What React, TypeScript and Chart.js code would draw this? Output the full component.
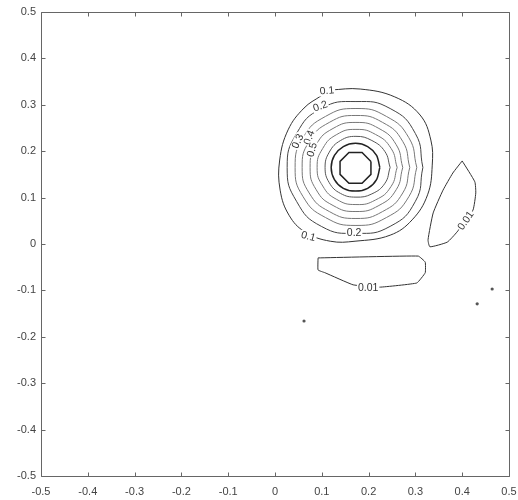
import React, { useEffect, useRef } from "react";
import { Chart, registerables } from "chart.js";
Chart.register(...registerables);

type P = [number, number];

const axisMin = -0.5;
const axisMax = 0.5;
const tickStep = 0.1;

const contour_0_1: P[] = [
  [0.118, 0.332], [0.182, 0.334], [0.256, 0.317], [0.310, 0.278], [0.333, 0.224], [0.336, 0.170],
  [0.326, 0.106], [0.293, 0.052], [0.246, 0.019], [0.171, 0.006], [0.118, 0.006], [0.064, 0.026],
  [0.030, 0.062], [0.011, 0.116], [0.010, 0.181], [0.028, 0.246], [0.062, 0.293], [0.098, 0.319],
];
const contour_0_2: P[] = [
  [0.316, 0.165], [0.300, 0.238], [0.246, 0.292], [0.173, 0.307], [0.099, 0.292], [0.046, 0.238],
  [0.026, 0.165], [0.046, 0.092], [0.099, 0.038], [0.173, 0.023], [0.246, 0.038], [0.300, 0.092],
];
const contour_0_3: P[] = [
  [0.303, 0.165], [0.286, 0.229], [0.238, 0.275], [0.173, 0.292], [0.108, 0.275], [0.060, 0.229],
  [0.043, 0.165], [0.060, 0.102], [0.108, 0.057], [0.173, 0.040], [0.238, 0.057], [0.286, 0.102],
];
const contour_0_4: P[] = [
  [0.288, 0.165], [0.273, 0.221], [0.230, 0.262], [0.173, 0.277], [0.116, 0.262], [0.073, 0.221],
  [0.058, 0.165], [0.073, 0.110], [0.116, 0.070], [0.173, 0.055], [0.230, 0.070], [0.273, 0.110],
];
const contour_0_5: P[] = [
  [0.273, 0.165], [0.259, 0.214], [0.222, 0.249], [0.173, 0.262], [0.124, 0.249], [0.088, 0.214],
  [0.075, 0.165], [0.088, 0.117], [0.124, 0.083], [0.173, 0.070], [0.222, 0.083], [0.259, 0.117],
];
const contour_0_6: P[] = [
  [0.261, 0.165], [0.248, 0.206], [0.215, 0.236], [0.173, 0.247], [0.132, 0.236], [0.102, 0.206],
  [0.090, 0.165], [0.102, 0.125], [0.132, 0.096], [0.173, 0.085], [0.215, 0.095], [0.248, 0.124],
];
const contour_0_7: P[] = [
  [0.246, 0.165], [0.235, 0.199], [0.207, 0.223], [0.173, 0.232], [0.140, 0.223], [0.116, 0.198],
  [0.107, 0.165], [0.116, 0.132], [0.140, 0.109], [0.173, 0.101], [0.207, 0.108], [0.235, 0.131],
];
const contour_0_8: P[] = [
  [0.224, 0.165], [0.217, 0.191], [0.198, 0.210], [0.172, 0.217], [0.146, 0.210], [0.127, 0.191],
  [0.120, 0.165], [0.127, 0.139], [0.146, 0.120], [0.172, 0.114], [0.198, 0.120], [0.217, 0.139],
];
const contour_0_9: P[] = [
  [0.205, 0.178], [0.186, 0.197], [0.158, 0.197], [0.139, 0.178],
  [0.139, 0.150], [0.158, 0.131], [0.186, 0.131], [0.205, 0.150],
];
const contour_0_01_right: P[] = [
  [0.400, 0.179], [0.427, 0.134], [0.429, 0.110], [0.423, 0.073], [0.389, 0.026], [0.368, 0.004],
  [0.331, -0.006], [0.327, 0.009], [0.338, 0.067], [0.359, 0.116], [0.380, 0.153],
];
const contour_0_01_bottom: P[] = [
  [0.092, -0.030], [0.306, -0.026], [0.321, -0.039], [0.321, -0.062], [0.303, -0.084],
  [0.224, -0.093], [0.167, -0.088], [0.107, -0.062], [0.092, -0.056],
];
const isolatedPoints: P[] = [
  [0.062, -0.166], [0.464, -0.097], [0.432, -0.129],
];

const labelTexts = ["0.1", "0.2", "0.3", "0.4", "0.5", "0.1", "0.2", "0.01", "0.01"];
const labelX = [0.111, 0.097, 0.049, 0.074, 0.080, 0.071, 0.169, 0.408, 0.199];
const labelY = [0.330, 0.296, 0.221, 0.229, 0.203, 0.016, 0.024, 0.050, -0.094];
const labelAngle = [-5, -20, -65, -70, -75, 15, 0, -55, 0];

const FONT = "'Liberation Sans', Arial, Helvetica, sans-serif";

const ring = (pts: P[], color: string, width: number, tension: number) => ({
  type: "scatter" as const,
  data: [...pts, pts[0]].map(([x, y]) => ({ x, y })),
  showLine: true,
  borderColor: color,
  backgroundColor: color,
  borderWidth: width,
  pointRadius: 0,
  tension,
  fill: false,
});

const labelPlugin = {
  id: "contourLabels",
  afterDatasetsDraw(chart: any) {
    const ctx = chart.ctx;
    const xs = chart.scales.x;
    const ys = chart.scales.y;
    ctx.save();
    ctx.font = `10.5px ${FONT}`;
    ctx.textAlign = "center";
    ctx.textBaseline = "middle";
    for (let i = 0; i < labelTexts.length; i++) {
      const px = xs.getPixelForValue(labelX[i]);
      const py = ys.getPixelForValue(labelY[i]);
      ctx.save();
      ctx.translate(px, py);
      ctx.rotate((labelAngle[i] * Math.PI) / 180);
      const w = ctx.measureText(labelTexts[i]).width;
      ctx.fillStyle = "#ffffff";
      ctx.fillRect(-w / 2 - 1, -5, w + 2, 10);
      ctx.fillStyle = "#333";
      ctx.fillText(labelTexts[i], 0, 0);
      ctx.restore();
    }
    ctx.restore();
  },
};

const boxPlugin = {
  id: "boxTicks",
  afterDraw(chart: any) {
    const ctx = chart.ctx;
    const xs = chart.scales.x;
    const ys = chart.scales.y;
    const L = Math.round(xs.getPixelForValue(axisMin)) + 0.5;
    const R = Math.round(xs.getPixelForValue(axisMax)) + 0.5;
    const T = Math.round(ys.getPixelForValue(axisMax)) + 0.5;
    const B = Math.round(ys.getPixelForValue(axisMin)) + 0.5;
    ctx.save();
    ctx.setLineDash([]);
    ctx.strokeStyle = "#666666";
    ctx.lineWidth = 1;
    ctx.beginPath();
    ctx.moveTo(L, T);
    ctx.lineTo(R, T);
    ctx.lineTo(R, B);
    ctx.lineTo(L, B);
    ctx.closePath();
    const tl = 4;
    for (const t of xs.ticks) {
      const p = Math.round(xs.getPixelForValue(t.value)) + 0.5;
      ctx.moveTo(p, B);
      ctx.lineTo(p, B - tl);
      ctx.moveTo(p, T);
      ctx.lineTo(p, T + tl);
    }
    for (const t of ys.ticks) {
      const p = Math.round(ys.getPixelForValue(t.value)) + 0.5;
      ctx.moveTo(L, p);
      ctx.lineTo(L + tl, p);
      ctx.moveTo(R, p);
      ctx.lineTo(R - tl, p);
    }
    ctx.stroke();
    ctx.restore();
  },
};

const fmt = (v: any) => {
  const n = Number(Number(v).toFixed(1));
  return n === 0 ? "0" : String(n);
};

export default function App() {
  const ref = useRef<HTMLCanvasElement>(null);
  useEffect(() => {
    if (!ref.current) return;
    const chart = new Chart(ref.current, {
      type: "scatter",
      data: {
        datasets: [
          ring(contour_0_1, "#333", 1, 0.4),
          ring(contour_0_2, "#444", 1, 0.5),
          ring(contour_0_3, "#777", 1, 0.5),
          ring(contour_0_4, "#777", 1, 0.5),
          ring(contour_0_5, "#777", 1, 0.5),
          ring(contour_0_6, "#777", 1, 0.5),
          ring(contour_0_7, "#555", 1, 0.45),
          ring(contour_0_8, "#222", 1.5, 0.3),
          ring(contour_0_9, "#222", 1.5, 0),
          ring(contour_0_01_right, "#333", 1, 0.15),
          ring(contour_0_01_bottom, "#333", 1, 0.1),
          {
            type: "scatter" as const,
            data: isolatedPoints.map(([x, y]) => ({ x, y })),
            pointRadius: 1.6,
            borderWidth: 0,
            backgroundColor: "#555",
            showLine: false,
          },
        ] as any,
      },
      options: {
        animation: false,
        responsive: false,
        maintainAspectRatio: false,
        layout: { padding: { top: 12, right: 9, left: 0, bottom: 0 } },
        plugins: { legend: { display: false }, tooltip: { enabled: false } },
        scales: {
          x: {
            type: "linear",
            min: axisMin,
            max: axisMax,
            grid: { display: false, drawTicks: false },
            border: { display: false },
            ticks: { stepSize: tickStep, callback: fmt, color: "#444", font: { family: FONT, size: 11 }, padding: 9, maxRotation: 0, autoSkip: false },
            afterFit: (s: any) => { s.height = 24; s.paddingLeft = 0; s.paddingRight = 0; },
          },
          y: {
            type: "linear",
            min: axisMin,
            max: axisMax,
            grid: { display: false, drawTicks: false },
            border: { display: false },
            ticks: { stepSize: tickStep, callback: fmt, color: "#444", font: { family: FONT, size: 11 }, padding: 5, autoSkip: false },
            afterFit: (s: any) => { s.width = 41; s.paddingTop = 0; s.paddingBottom = 0; },
          },
        },
      },
      plugins: [labelPlugin, boxPlugin],
    });
    return () => chart.destroy();
  }, []);
  return (
    <div style={{ position: "absolute", left: 0, top: 0, width: 518, height: 500, background: "#fff" }}>
      <canvas ref={ref} width={518} height={500} style={{ width: 518, height: 500 }} />
    </div>
  );
}
